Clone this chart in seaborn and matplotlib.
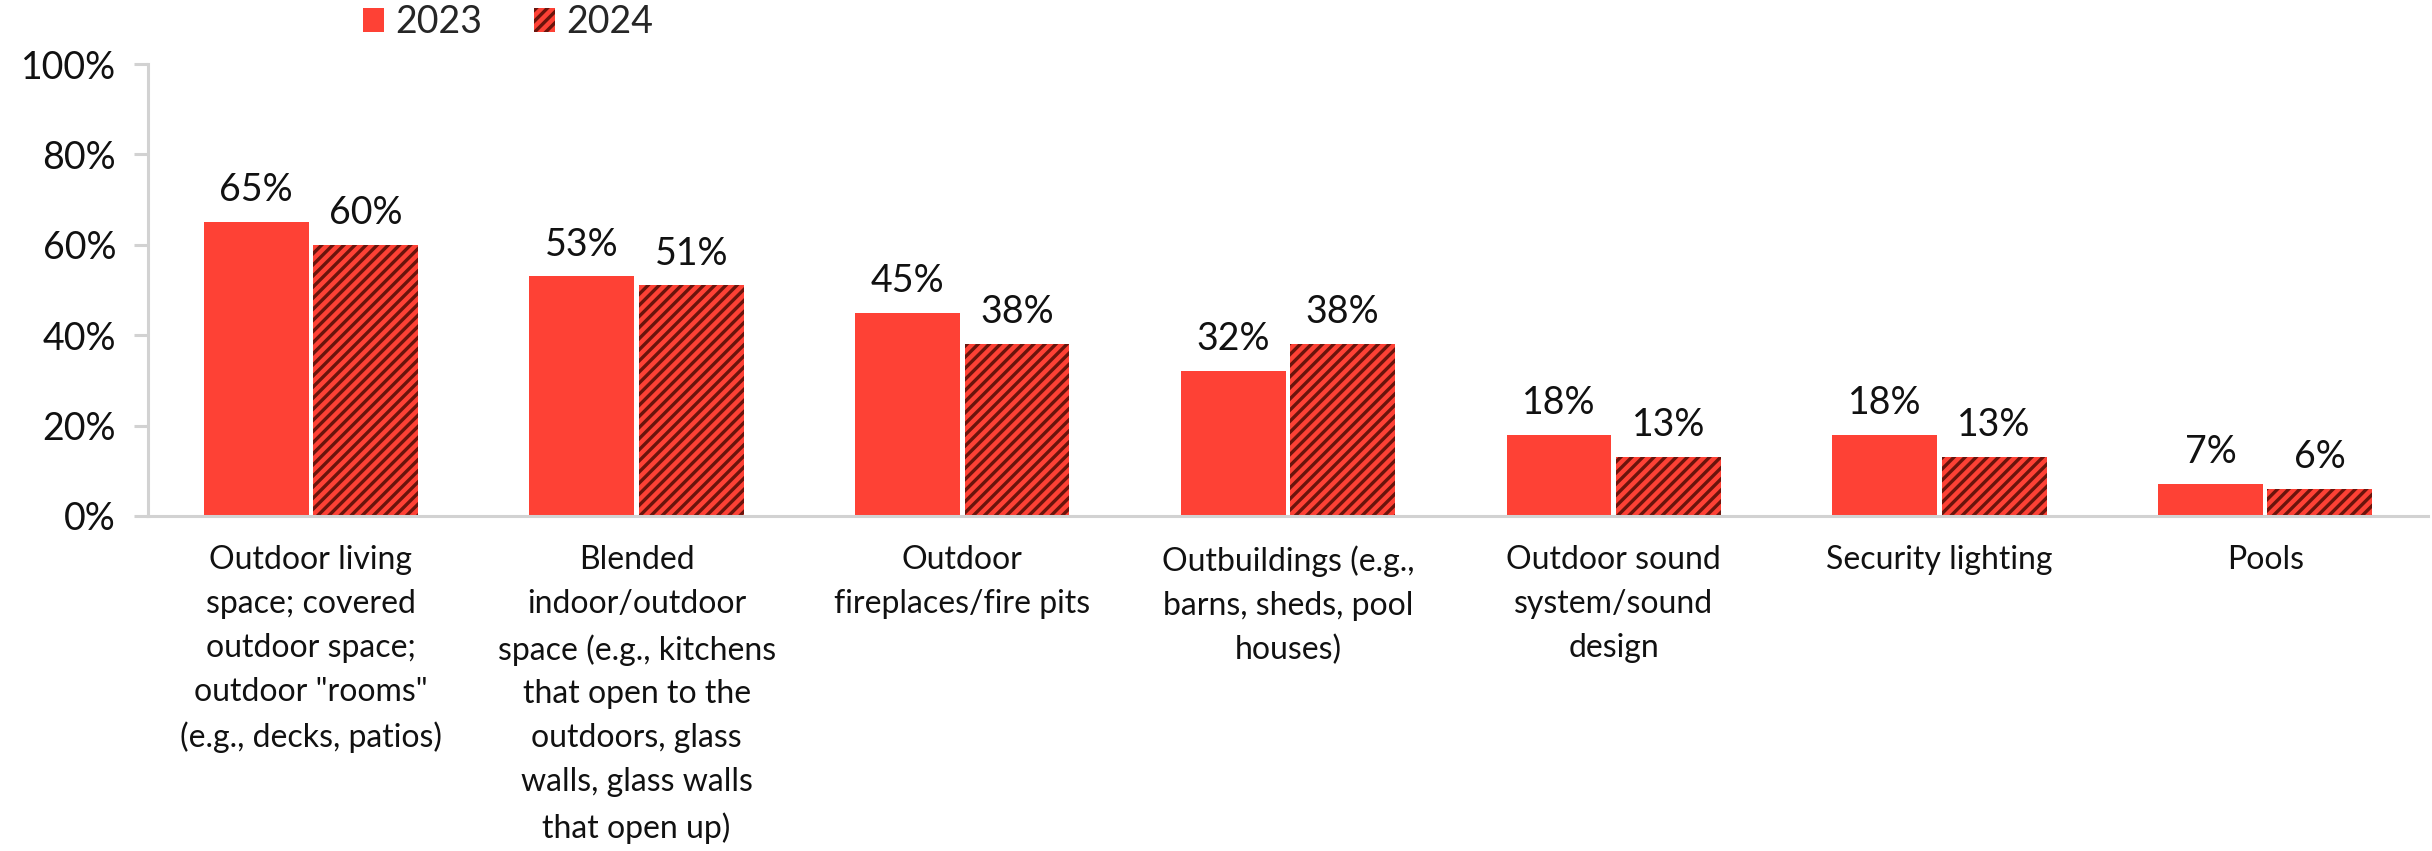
import matplotlib
matplotlib.use("Agg")
import matplotlib.pyplot as plt
from matplotlib.patches import Patch
from matplotlib.ticker import FuncFormatter
import seaborn as sns
import pandas as pd

categories = [
    "Outdoor living\nspace; covered\noutdoor space;\noutdoor \"rooms\"\n(e.g., decks, patios)",
    "Blended\nindoor/outdoor\nspace (e.g., kitchens\nthat open to the\noutdoors, glass\nwalls, glass walls\nthat open up)",
    "Outdoor\nfireplaces/fire pits",
    "Outbuildings (e.g.,\nbarns, sheds, pool\nhouses)",
    "Outdoor sound\nsystem/sound\ndesign",
    "Security lighting",
    "Pools",
]
values_2023 = [65, 53, 45, 32, 18, 18, 7]
values_2024 = [60, 51, 38, 38, 13, 13, 6]
years = ["2023", "2024"]
y_ticks = [0, 20, 40, 60, 80, 100]

RED = "#FE4135"
DARK = "#6A140C"
AXIS_GREY = "#D2D2D2"
TEXT = "#111111"

df = pd.DataFrame({
    "category": categories * 2,
    "year": [years[0]] * len(categories) + [years[1]] * len(categories),
    "value": values_2023 + values_2024,
})

sns.set_theme(style="white")
plt.rcParams["font.family"] = ["Lato", "DejaVu Sans"]
plt.rcParams["hatch.linewidth"] = 2.4

fig = plt.figure(figsize=(24.32, 8.51), dpi=100)
ax = fig.add_axes([148 / 2432, 1 - 516 / 851, (2428 - 148) / 2432, (516 - 64) / 851])

sns.barplot(
    data=df, x="category", y="value", hue="year", order=categories,
    hue_order=years, palette=[RED, RED], width=0.672, gap=0.042,
    saturation=1, legend=False, ax=ax, linewidth=0,
)

# Second series gets dark diagonal stripes
for bar in ax.containers[1]:
    bar.set_hatch("///")
    bar.set_edgecolor(DARK)
    bar.set_linewidth(0)

for cont in ax.containers:
    ax.bar_label(cont, labels=[f"{v:.0f}%" for v in cont.datavalues],
                 padding=10, fontsize=27, color=TEXT)

ax.set_ylim(0, 100)
ax.set_xlim(-0.5, len(categories) - 0.5)
ax.set_yticks(y_ticks)
ax.yaxis.set_major_formatter(FuncFormatter(lambda v, _: f"{v:.0f}%"))
ax.set_xlabel("")
ax.set_ylabel("")

for side in ["top", "right"]:
    ax.spines[side].set_visible(False)
for side in ["left", "bottom"]:
    ax.spines[side].set_color(AXIS_GREY)
    ax.spines[side].set_linewidth(2.2)

ax.tick_params(axis="y", length=10, width=2.2, color=AXIS_GREY, pad=13,
               labelsize=27, labelcolor=TEXT, left=True)
ax.tick_params(axis="x", length=0, pad=21, labelsize=23, labelcolor=TEXT)
for lbl in ax.get_xticklabels():
    lbl.set_linespacing(1.58)
    lbl.set_verticalalignment("top")

handles = [
    Patch(facecolor=RED, edgecolor=RED, linewidth=0, label=years[0]),
    Patch(facecolor=RED, edgecolor=DARK, hatch="///", linewidth=0, label=years[1]),
]
fig.legend(
    handles=handles, loc="center left", bbox_to_anchor=(363 / 2432, 1 - 22 / 851),
    ncol=2, frameon=False, fontsize=27, handlelength=0.55, handleheight=0.6,
    handletextpad=0.3, columnspacing=1.4, borderpad=0, borderaxespad=0,
)

fig.savefig("out.png", dpi=100)
